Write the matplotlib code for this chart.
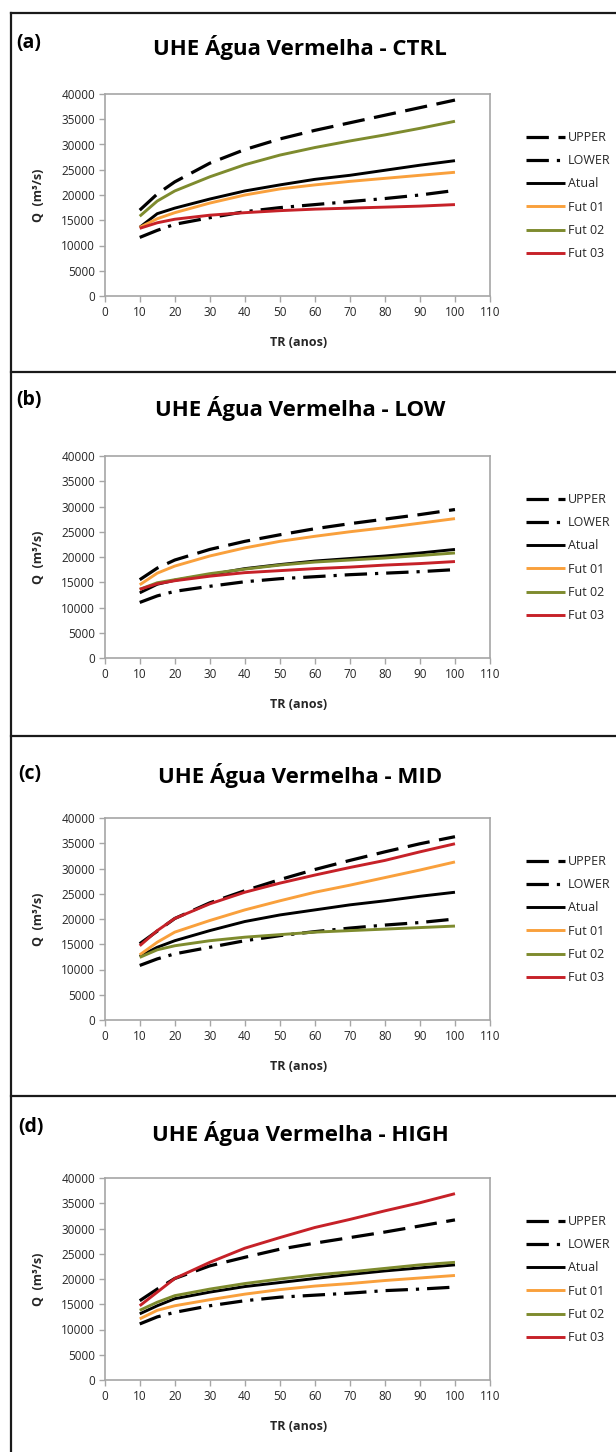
import matplotlib
matplotlib.use("Agg")
import matplotlib.pyplot as plt
from matplotlib.lines import Line2D

plt.rcParams['font.family'] = ['Open Sans', 'DejaVu Sans']

# return periods (anos)
tr = [10, 15, 20, 30, 40, 50, 60, 70, 80, 90, 100]

scenarios = ["CTRL", "LOW", "MID", "HIGH"]
letters = ["(a)", "(b)", "(c)", "(d)"]
series_names = ["UPPER", "LOWER", "Atual", "Fut 01", "Fut 02", "Fut 03"]

# Q (m3/s), one list per series and scenario
upper_ctrl = [17000, 20200, 22600, 26300, 29000, 31100, 32800, 34300, 35800, 37300, 38800]
lower_ctrl = [11600, 13000, 14200, 15500, 16700, 17500, 18100, 18700, 19300, 20000, 20900]
atual_ctrl = [13600, 16300, 17400, 19200, 20800, 22000, 23100, 23900, 24900, 25900, 26800]
fut01_ctrl = [13600, 15300, 16500, 18400, 20000, 21200, 22000, 22700, 23300, 23900, 24500]
fut02_ctrl = [15800, 18800, 20800, 23600, 26000, 27900, 29400, 30700, 31900, 33200, 34600]
fut03_ctrl = [13400, 14500, 15200, 16000, 16500, 16900, 17200, 17400, 17600, 17800, 18100]

upper_low = [15500, 17800, 19400, 21500, 23100, 24400, 25600, 26600, 27500, 28400, 29400]
lower_low = [11000, 12300, 13200, 14200, 15100, 15700, 16100, 16500, 16800, 17100, 17500]
atual_low = [12900, 14600, 15400, 16500, 17700, 18500, 19200, 19700, 20200, 20800, 21500]
fut01_low = [14500, 16800, 18200, 20200, 21800, 23100, 24100, 25000, 25800, 26700, 27600]
fut02_low = [13600, 14900, 15500, 16700, 17600, 18400, 19000, 19400, 19800, 20300, 20800]
fut03_low = [13600, 14700, 15300, 16200, 16900, 17300, 17700, 18000, 18400, 18700, 19100]

upper_mid = [15100, 17600, 20100, 23200, 25600, 27800, 29800, 31600, 33300, 34900, 36300]
lower_mid = [10800, 12100, 13100, 14400, 15700, 16700, 17500, 18200, 18800, 19300, 20000]
atual_mid = [12600, 14400, 15700, 17700, 19500, 20800, 21800, 22800, 23600, 24500, 25300]
fut01_mid = [12900, 15400, 17400, 19700, 21800, 23600, 25300, 26700, 28200, 29700, 31300]
fut02_mid = [12400, 13900, 14700, 15700, 16400, 16900, 17400, 17700, 18000, 18300, 18600]
fut03_mid = [14700, 17700, 20100, 23000, 25300, 27100, 28700, 30200, 31600, 33300, 34900]

upper_high = [15700, 18000, 20100, 22600, 24300, 25900, 27100, 28200, 29300, 30500, 31700]
lower_high = [11100, 12500, 13400, 14700, 15700, 16400, 16800, 17200, 17700, 18000, 18400]
atual_high = [13100, 14700, 16100, 17400, 18500, 19300, 20100, 20900, 21600, 22200, 22800]
fut01_high = [12100, 13800, 14700, 15900, 17000, 17900, 18600, 19100, 19700, 20200, 20700]
fut02_high = [13800, 15400, 16700, 18000, 19100, 20000, 20800, 21400, 22100, 22800, 23300]
fut03_high = [14700, 17400, 20100, 23300, 26100, 28200, 30200, 31800, 33500, 35100, 36900]

data = [
    [upper_ctrl, lower_ctrl, atual_ctrl, fut01_ctrl, fut02_ctrl, fut03_ctrl],
    [upper_low, lower_low, atual_low, fut01_low, fut02_low, fut03_low],
    [upper_mid, lower_mid, atual_mid, fut01_mid, fut02_mid, fut03_mid],
    [upper_high, lower_high, atual_high, fut01_high, fut02_high, fut03_high],
]

styles = [
    dict(color="black", lw=2.3, dashes=(7, 3)),
    dict(color="black", lw=2.3, dashes=(7, 2.5, 1, 2.5)),
    dict(color="black", lw=2.1),
    dict(color="#F9A03C", lw=2.1),
    dict(color="#7E8B2E", lw=2.1),
    dict(color="#C62128", lw=2.1),
]

W, H = 616, 1452
fig = plt.figure(figsize=(W / 100, H / 100), dpi=100)

ax_left, ax_w, ax_h = 104.7, 385.3, 202
ax_tops = [94, 456, 818, 1178]
title_base = [54.5, 416, 782.5, 1141.5]
letter_base = [48, 405, 779, 1132]
letter_x = [16, 16, 18, 18]
sep_y = [13, 372, 736, 1096]

grey = "#A6A6A6"
txt = "#262626"

for i, scen in enumerate(scenarios):
    top = ax_tops[i]
    ax = fig.add_axes([ax_left / W, 1 - (top + ax_h) / H, ax_w / W, ax_h / H])
    for name, vals, st in zip(series_names, data[i], styles):
        ax.plot(tr, vals, label=name, solid_capstyle="butt", **st)
    ax.set_xlim(0, 110)
    ax.set_ylim(0, 40000)
    ax.set_xticks(range(0, 111, 10))
    ax.set_yticks(range(0, 40001, 5000))
    for sp in ax.spines.values():
        sp.set_color(grey)
        sp.set_linewidth(1.2)
    ax.tick_params(direction="out", length=4, width=1, color=grey,
                   labelsize=8.5, labelcolor=txt, pad=3)

    leg = ax.legend(loc="upper left", bbox_to_anchor=(1.093, 0.817),
                    frameon=False, fontsize=9, handlelength=3.1,
                    handletextpad=0.24, labelspacing=0.82, borderpad=0,
                    borderaxespad=0)
    for t in leg.get_texts():
        t.set_color(txt)

    cy = top + ax_h / 2
    fig.text(39 / W, 1 - cy / H, "Q  (m³/s)", rotation=90, ha="center",
             va="center", fontsize=9, fontweight="bold", color=txt)
    fig.text(299 / W, 1 - (top + ax_h + 46) / H, "TR (anos)", ha="center",
             va="center", fontsize=9, fontweight="bold", color=txt)
    fig.text(300 / W, 1 - title_base[i] / H, "UHE Água Vermelha - " + scen,
             ha="center", va="baseline", fontsize=16, fontweight="bold",
             color="black")
    fig.text(letter_x[i] / W, 1 - letter_base[i] / H, letters[i], ha="left",
             va="baseline", fontsize=14, fontweight="bold", color="black")

# panel frames
fig.add_artist(Line2D([11 / W, 11 / W], [0, 1 - 13 / H], color="#1a1a1a", lw=1.6))
for y in sep_y:
    fig.add_artist(Line2D([11 / W, 1], [1 - y / H, 1 - y / H], color="#1a1a1a", lw=1.6))

fig.savefig("out.png", dpi=100)
